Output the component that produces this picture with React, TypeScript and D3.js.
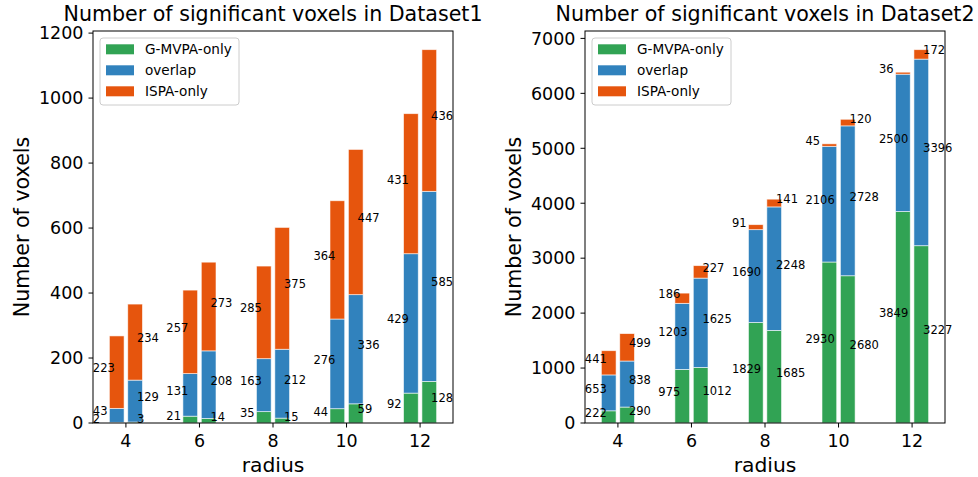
import * as d3 from 'd3';

// radius categories
const RADII = [4, 6, 8, 10, 12];
const SERIES = ['G-MVPA-only', 'overlap', 'ISPA-only'];
const COLOURS = ['#31a354', '#3182bd', '#e6550d'];

// Dataset1 — left bar / right bar of each radius
const D1_GMVPA_LEFT = [2, 21, 35, 44, 92];
const D1_OVERLAP_LEFT = [43, 131, 163, 276, 429];
const D1_ISPA_LEFT = [223, 257, 285, 364, 431];
const D1_GMVPA_RIGHT = [3, 14, 15, 59, 128];
const D1_OVERLAP_RIGHT = [129, 208, 212, 336, 585];
const D1_ISPA_RIGHT = [234, 273, 375, 447, 436];

// Dataset2
const D2_GMVPA_LEFT = [222, 975, 1829, 2930, 3849];
const D2_OVERLAP_LEFT = [653, 1203, 1690, 2106, 2500];
const D2_ISPA_LEFT = [441, 186, 91, 45, 36];
const D2_GMVPA_RIGHT = [290, 1012, 1685, 2680, 3227];
const D2_OVERLAP_RIGHT = [838, 1625, 2248, 2728, 3396];
const D2_ISPA_RIGHT = [499, 227, 141, 120, 172];

const FONT = 'DejaVu Sans, sans-serif';
const TOP = 31;
const BOTTOM = 423;
const BAR_W = 0.4;
const OFFSET = 0.25;

interface PanelProps {
  title: string;
  left: number;
  right: number;
  barsLeft: number[][];
  barsRight: number[][];
}

function Panel({ title, left, right, barsLeft, barsRight }: PanelProps) {
  const x = d3.scaleLinear().domain([RADII[0] - OFFSET - BAR_W / 2 - 0.445, RADII[RADII.length - 1] + OFFSET + BAR_W / 2 + 0.445]).range([left, right]);

  const totals = [barsLeft, barsRight].flatMap(b => RADII.map((_, i) => d3.sum(b.map(s => s[i]))));
  const yMax = (d3.max(totals) as number) * 1.05;
  const y = d3.scaleLinear().domain([0, yMax]).range([BOTTOM, TOP]);
  const cx = (left + right) / 2;
  const cy = (TOP + BOTTOM) / 2;

  // stacked segments
  const segs: { x0: number; x1: number; y0: number; y1: number; v: number; k: number; lx: number }[] = [];
  [barsLeft, barsRight].forEach((bars, side) => {
    RADII.forEach((r, i) => {
      const centre = side === 0 ? r - OFFSET : r + OFFSET;
      let base = 0;
      bars.forEach((s, k) => {
        const v = s[i];
        segs.push({
          x0: x(centre - BAR_W / 2),
          x1: x(centre + BAR_W / 2),
          y0: y(base),
          y1: y(base + v),
          v,
          k,
          lx: side === 0 ? x(r - 0.9) : x(r + 0.3),
        });
        base += v;
      });
    });
  });

  return (
    <g>
      {segs.map((s, i) => (
        <rect
          key={`b${i}`}
          x={s.x0}
          y={s.y1}
          width={s.x1 - s.x0}
          height={s.y0 - s.y1}
          fill={COLOURS[s.k]}
          stroke="#ffffff"
          strokeOpacity={0.7}
          strokeWidth={0.8}
        />
      ))}
      {segs.map((s, i) => (
        <text key={`l${i}`} x={s.lx} y={(s.y0 + s.y1) / 2} fontSize={11.5} fill="#000">
          {s.v}
        </text>
      ))}

      {/* frame */}
      <rect x={left} y={TOP} width={right - left} height={BOTTOM - TOP} fill="none" stroke="#000" strokeWidth={1} />

      {/* y ticks */}
      {y.ticks(7).map(t => (
        <g key={`y${t}`}>
          <line x1={left - 4.5} x2={left} y1={y(t)} y2={y(t)} stroke="#000" />
          <text x={left - 9.5} y={y(t)} dy="0.36em" textAnchor="end" fontSize={17.5}>
            {t}
          </text>
        </g>
      ))}
      {/* x ticks */}
      {RADII.map(r => (
        <g key={`x${r}`}>
          <line x1={x(r)} x2={x(r)} y1={BOTTOM} y2={BOTTOM + 4.5} stroke="#000" />
          <text x={x(r)} y={446.5} textAnchor="middle" fontSize={17.5}>
            {r}
          </text>
        </g>
      ))}

      <text x={cx} y={21} textAnchor="middle" fontSize={20.6}>{title}</text>
      <text x={cx} y={471.5} textAnchor="middle" fontSize={20.3}>radius</text>
      <text transform={`translate(${left - 64.5},${cy}) rotate(-90)`} textAnchor="middle" fontSize={20.6}>
        Number of voxels
      </text>

      {/* legend */}
      <g transform={`translate(${left + 7},38)`}>
        <rect x={0} y={0} width={139} height={67} rx={3} fill="#fff" fillOpacity={0.8} stroke="#cccccc" />
        {SERIES.map((name, k) => (
          <g key={name} transform={`translate(0,${11.3 + k * 21})`}>
            <rect x={6} y={-5} width={28} height={10} fill={COLOURS[k]} />
            <text x={45} y={0} dy="0.36em" fontSize={13.6}>{name}</text>
          </g>
        ))}
      </g>
    </g>
  );
}

export default function App() {
  return (
    <svg
      width={978}
      height={477}
      style={{ position: 'absolute', left: 0, top: 0, background: '#fff' }}
      fontFamily={FONT}
    >
      <Panel
        title="Number of significant voxels in Dataset1"
        left={93}
        right={453}
        barsLeft={[D1_GMVPA_LEFT, D1_OVERLAP_LEFT, D1_ISPA_LEFT]}
        barsRight={[D1_GMVPA_RIGHT, D1_OVERLAP_RIGHT, D1_ISPA_RIGHT]}
      />
      <Panel
        title="Number of significant voxels in Dataset2"
        left={585}
        right={945}
        barsLeft={[D2_GMVPA_LEFT, D2_OVERLAP_LEFT, D2_ISPA_LEFT]}
        barsRight={[D2_GMVPA_RIGHT, D2_OVERLAP_RIGHT, D2_ISPA_RIGHT]}
      />
    </svg>
  );
}
